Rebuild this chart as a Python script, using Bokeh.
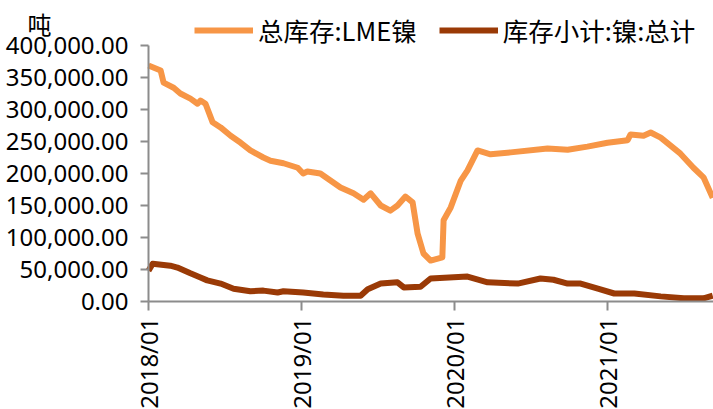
from datetime import datetime, timedelta
from bokeh.plotting import figure
from bokeh.models import (ColumnDataSource, FixedTicker, DatetimeTickFormatter,
                          NumeralTickFormatter, Legend, LegendItem, Label, Range1d)
from bokeh.embed import file_html
from bokeh.resources import INLINE

# ---- data ----
lme_dates = ["2018-01-01", "2018-01-30", "2018-02-06", "2018-03-02", "2018-03-18", "2018-04-11",
             "2018-04-28", "2018-05-05", "2018-05-17", "2018-06-03", "2018-06-22", "2018-07-16",
             "2018-08-09", "2018-09-01", "2018-10-02", "2018-10-19", "2018-11-19", "2018-12-23",
             "2019-01-05", "2019-01-15", "2019-02-15", "2019-03-11", "2019-04-04", "2019-05-05",
             "2019-05-29", "2019-06-15", "2019-07-09", "2019-08-01", "2019-08-18", "2019-09-06",
             "2019-09-23", "2019-10-05", "2019-10-19", "2019-11-05", "2019-12-03", "2019-12-06",
             "2019-12-23", "2020-01-16", "2020-02-01", "2020-02-25", "2020-03-27", "2020-05-14",
             "2020-08-10", "2020-09-27", "2020-11-13", "2020-12-31", "2021-02-17", "2021-02-24",
             "2021-03-27", "2021-04-13", "2021-05-07", "2021-06-23", "2021-07-24", "2021-08-17",
             "2021-09-08"]
lme_values = [368750, 361000, 342000, 334000, 325000, 317000,
              309000, 314000, 309000, 280000, 272000, 259000,
              248000, 236000, 225000, 220000, 216000, 209000,
              200000, 203000, 200000, 189000, 178000, 169000,
              159000, 169000, 150000, 142000, 150000, 164000,
              155000, 106000, 75000, 64000, 69000, 127000,
              147000, 189000, 205000, 236000, 230000, 233000,
              239000, 237000, 242000, 248000, 252000, 261000,
              259000, 264000, 256000, 231000, 209000, 194000,
              162000]

sub_dates = ["2018-01-01", "2018-01-11", "2018-02-22", "2018-03-11", "2018-04-11", "2018-05-05",
             "2018-05-21", "2018-06-22", "2018-07-23", "2018-09-01", "2018-10-02", "2018-11-05",
             "2018-11-19", "2019-01-05", "2019-02-22", "2019-04-11", "2019-05-22", "2019-06-08",
             "2019-07-09", "2019-08-18", "2019-09-02", "2019-10-12", "2019-11-05", "2020-02-01",
             "2020-03-20", "2020-05-31", "2020-07-24", "2020-08-24", "2020-09-27", "2020-10-28",
             "2020-12-08", "2021-01-16", "2021-03-05", "2021-05-07", "2021-07-01", "2021-08-17",
             "2021-09-08"]
sub_values = [48000, 59000, 56000, 53000, 44000, 37500,
              33000, 28000, 20000, 16000, 17000, 14000,
              16000, 14000, 11000, 9000, 9000, 19000,
              28000, 30000, 22000, 23000, 36000, 39000,
              30000, 28000, 36000, 34000, 28000, 28000,
              20000, 12500, 12500, 8000, 5000, 5000,
              9000]

series_names = ["总库存:LME镍", "库存小计:镍:总计"]
x_tick_dates = ["2018-01-01", "2019-01-01", "2020-01-01", "2021-01-01"]
y_ticks = [0, 50000, 100000, 150000, 200000, 250000, 300000, 350000, 400000]
unit_label = "吨"

# ---- build ----
def to_dt(s):
    return datetime.strptime(s, "%Y-%m-%d")

def ms(d):
    return (d - datetime(1970, 1, 1)).total_seconds() * 1000

src1 = ColumnDataSource(dict(x=[to_dt(d) for d in lme_dates], y=lme_values))
src2 = ColumnDataSource(dict(x=[to_dt(d) for d in sub_dates], y=sub_values))

TICK_FONT = "Noto Sans"
CJK_FONT = "Noto Sans CJK SC"

W, H = 713, 409
# frame covers the whole canvas; axes are pinned inside it with fixed_location
x0 = to_dt("2018-01-01")
days_per_px = 365.0 / 153.0
val_per_px = 50000.0 / 32.0
ax_x, ax_y = 148, 301   # pixel position of the axes' origin

p = figure(width=W, height=H, x_axis_type="datetime", output_backend="svg",
           toolbar_location=None, min_border=0)
p.x_range = Range1d(x0 - timedelta(days=ax_x * days_per_px),
                    x0 + timedelta(days=(W - ax_x) * days_per_px))
p.y_range = Range1d(-(H - ax_y) * val_per_px, ax_y * val_per_px)

p.outline_line_color = None
p.grid.visible = False
p.background_fill_color = "white"
p.border_fill_color = "white"

r1 = p.line("x", "y", source=src1, line_color="#F79646", line_width=6, line_join="round")
r2 = p.line("x", "y", source=src2, line_color="#9A3A06", line_width=6, line_join="round")

xa = p.xaxis[0]
xa.fixed_location = 0
xa.bounds = (ms(x0), ms(x0 + timedelta(days=(W - ax_x) * days_per_px)))
xa.ticker = FixedTicker(ticks=[ms(to_dt(d)) for d in x_tick_dates])
xa.formatter = DatetimeTickFormatter(days="%Y/%m", months="%Y/%m", years="%Y/%m")
xa.major_label_orientation = 3.14159265 / 2
xa.major_label_text_font = TICK_FONT
xa.major_label_text_font_size = "24px"
xa.major_label_text_color = "#000000"
xa.major_label_standoff = 7
xa.axis_line_color = "#8C8C8C"
xa.axis_line_width = 2
xa.major_tick_line_color = "#8C8C8C"
xa.major_tick_line_width = 2
xa.major_tick_out = 9
xa.major_tick_in = 0
xa.minor_tick_line_color = None

ya = p.yaxis[0]
ya.fixed_location = ms(x0)
ya.bounds = (0, 400000)
ya.ticker = FixedTicker(ticks=y_ticks)
ya.formatter = NumeralTickFormatter(format="0,0.00")
ya.major_label_text_font = TICK_FONT
ya.major_label_text_font_size = "24px"
ya.major_label_text_color = "#000000"
ya.major_label_standoff = 12
ya.axis_line_color = "#8C8C8C"
ya.axis_line_width = 2
ya.major_tick_line_color = "#8C8C8C"
ya.major_tick_line_width = 2
ya.major_tick_out = 8
ya.major_tick_in = 0
ya.minor_tick_line_color = None

legend = Legend(items=[LegendItem(label=series_names[0], renderers=[r1]),
                       LegendItem(label=series_names[1], renderers=[r2])],
                orientation="horizontal", location=(194, 361),
                label_text_font=CJK_FONT, label_text_font_size="25.5px",
                label_text_color="#000000",
                glyph_width=59, glyph_height=20, label_standoff=5, spacing=22,
                padding=0, margin=0, border_line_color=None,
                background_fill_alpha=0)
p.add_layout(legend, "center")

unit = Label(x=27, y=H - 23, x_units="screen", y_units="screen", text=unit_label,
             text_font=CJK_FONT, text_font_size="24px", text_color="#000000",
             text_baseline="middle", text_align="left")
p.add_layout(unit)

open("out.html", "w").write(file_html(p, INLINE))
